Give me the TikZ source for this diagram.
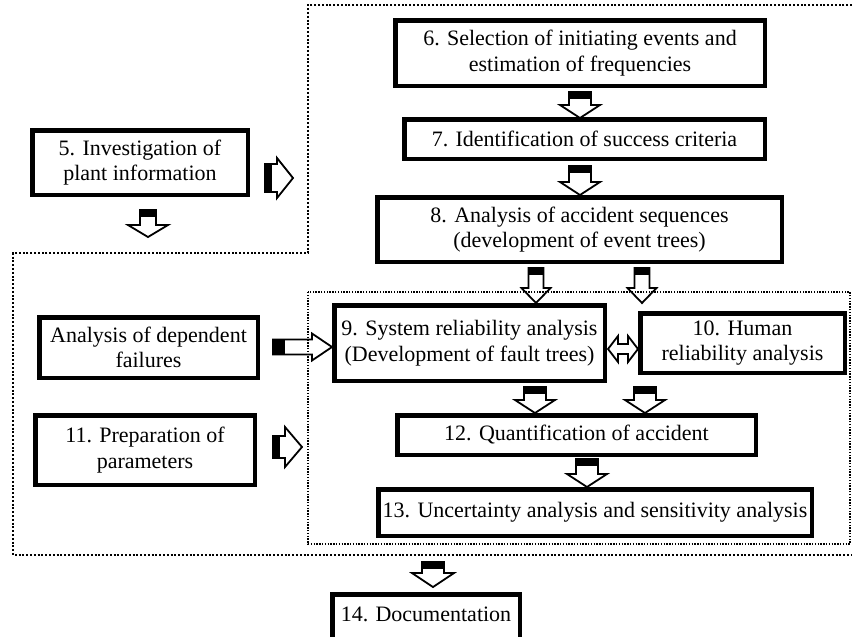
\documentclass[tikz,border=0pt]{standalone}
\usepackage{fontspec}
\setmainfont{Liberation Serif}
\newcommand\barrow[8]{% x, y, rotation, length, shaft half, head half, head length, tail thickness
  \begin{scope}[shift={(#1,#2)},rotate=#3]
    \draw[hollow] (-#5,0) -- (#5,0) -- (#5,#4-#7) -- (#6,#4-#7) -- (0,#4) -- (-#6,#4-#7) -- (-#5,#4-#7) -- cycle;
    \fill (-#5-0.9,-0.9) rectangle (#5+0.9,#8);
  \end{scope}}
\begin{document}
\begin{tikzpicture}[x=1pt,y=-1pt,
  box/.style={draw,line width=4.5pt,fill=white,align=center,inner sep=0pt,
    font=\fontsize{22}{25.5}\selectfont},
  outerdot/.style={line width=2pt,dash pattern=on 2pt off 1.8pt},
  innerdot/.style={line width=1.3pt,dash pattern=on 1.4pt off 1.4pt},
  hollow/.style={draw,line width=1.8pt,line join=miter}]
\useasboundingbox (0,0) rectangle (852,637);
% dotted frames
\draw[outerdot] (852,5) -- (308,5) -- (308,253) -- (13,253) -- (13,555) -- (852,555);
\draw[innerdot] (308,292) rectangle (850,544);
% boxes
\node[box,minimum width=369.5pt,minimum height=65.5pt] (b6) at (580,53) {6. Selection of initiating events and\\estimation of frequencies};
\node[box,minimum width=360.5pt,minimum height=39.5pt] (b7) at (584.5,139) {7. Identification of success criteria};
\node[box,minimum width=404.5pt,minimum height=64.5pt] (b8) at (579.5,229.5) {8. Analysis of accident sequences\\(development of event trees)};
\node[box,minimum width=215.5pt,minimum height=64.5pt] (b5) at (140,162.5) {5. Investigation of\\plant information};
\node[box,minimum width=218.5pt,minimum height=60.5pt] (bdep) at (148.5,347.5) {Analysis of dependent\\failures};
\node[box,minimum width=219.5pt,minimum height=69.5pt] (b11) at (145,450) {11. Preparation of\\parameters};
\node[box,minimum width=270.5pt,minimum height=75.5pt] (b9) at (469.5,343) {9. System reliability analysis\\(Development of fault trees)};
\node[box,minimum width=204.5pt,minimum height=59.5pt] (b10) at (742.5,343) {10. Human\\reliability analysis};
\node[box,minimum width=358.5pt,minimum height=39.5pt] (b12) at (576.5,435) {12. Quantification of accident};
\node[box,minimum width=433.5pt,minimum height=46.5pt] (b13) at (595,512.5) {13. Uncertainty analysis and sensitivity analysis};
\node[box,minimum width=187.5pt,minimum height=46.5pt] (b14) at (426,617.5) {\raisebox{6pt}{14. Documentation}};
% block arrows
\barrow{580}{92}{0}{26}{11}{20}{13}{7}
\barrow{580}{166}{0}{29}{11}{20}{13}{7}
\barrow{265}{178}{90}{28}{14}{20}{16}{7}
\barrow{148}{210}{0}{27}{8}{20}{12}{7}
\barrow{273}{347}{90}{59}{7.5}{13.5}{20}{12}
\barrow{536}{268}{0}{35}{7.5}{14.5}{15}{7}
\barrow{642}{268}{0}{35}{7.5}{14.5}{15}{7}
\barrow{535}{387}{0}{26}{11}{20}{13}{7}
\barrow{645}{387}{0}{26}{11}{20}{13}{7}
\barrow{587}{459}{0}{28}{11}{20}{13}{7}
\barrow{273}{447}{90}{29}{11}{20}{17}{7}
\barrow{433}{562}{0}{25}{11}{21}{14}{7}
% double arrow between 9 and 10
\draw[hollow] (608,349) -- (618,336) -- (618,344) -- (628,344) -- (628,336) -- (638,349) -- (628,362) -- (628,354) -- (618,354) -- (618,362) -- cycle;
\end{tikzpicture}
\end{document}
